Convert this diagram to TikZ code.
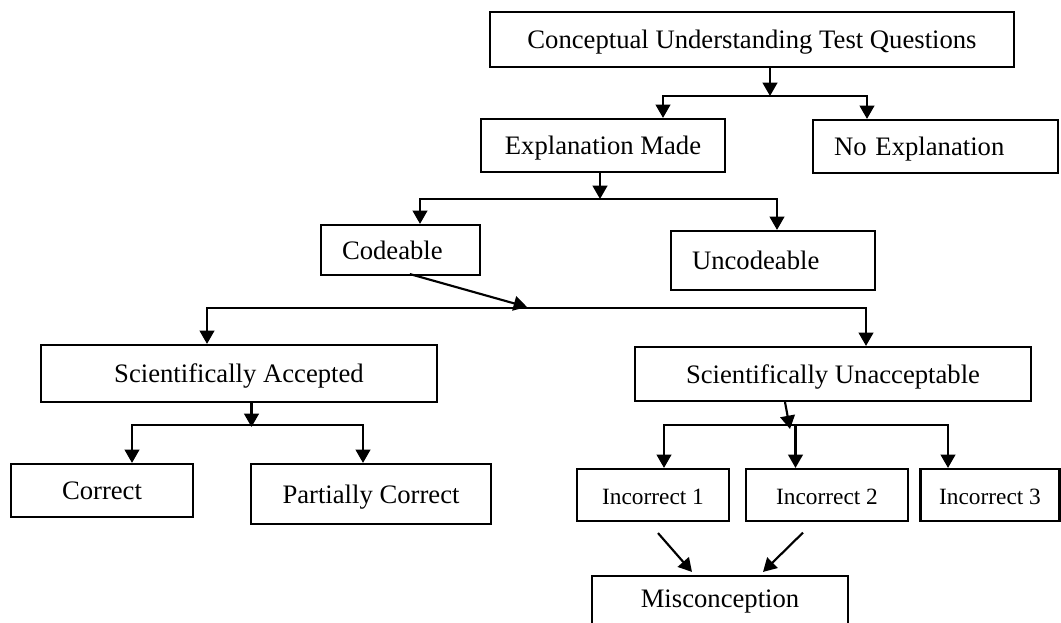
\documentclass[tikz,border=0pt]{standalone}
\usepackage{fontspec}
\setmainfont{Liberation Serif}
\usetikzlibrary{arrows.meta}
\usetikzlibrary{positioning}

\begin{document}
\begin{tikzpicture}[
    x=0.75pt, y=-0.75pt,  % pixel grid, y runs downwards
    flowbox/.style={
        rectangle,
        draw=black,
        line width=1.6pt,
        inner sep=0pt,
        text height=15pt,
        text depth=1pt,
        font=\fontsize{20}{24}\selectfont
    },
    leftbox/.style={
        flowbox,
        align=left,
        inner xsep=15.75pt  % text starts near the left edge
    },
    smallbox/.style={
        flowbox,
        font=\fontsize{17.5}{21}\selectfont
    },
    myarrow/.style={
        ->, >={Triangle[length=10pt, width=11pt]},
        line width=1.6pt
    },
    fork/.style={
        <->, >={Triangle[length=10pt, width=11pt]},
        line width=1.6pt
    }
]
\useasboundingbox (0,0) rectangle (1061,623);

% Boxes
\node[flowbox, minimum width=393pt, minimum height=41.25pt] (ctq) at (752,39.5) {Conceptual Understanding Test Questions};
\node[flowbox, minimum width=183pt, minimum height=39.75pt] (expl) at (603,145.5) {Explanation Made};
\node[leftbox, text width=152.25pt, minimum height=39.75pt] (noexpl) at (935.5,146.5) {No Explanation};
\node[leftbox, text width=87.75pt, minimum height=37.5pt] (code) at (400.5,250) {Codeable};
\node[leftbox, text width=121.5pt, minimum height=44.25pt] (uncode) at (773,260.5) {Uncodeable};
\node[flowbox, minimum width=297pt, minimum height=42.75pt] (sciacc) at (239,373.5) {Scientifically Accepted};
\node[flowbox, minimum width=297pt, minimum height=40.5pt] (sciun) at (833,374) {Scientifically Unacceptable};
\node[flowbox, minimum width=136.9pt, minimum height=39.75pt] (corr) at (102,490.5) {Correct};
\node[flowbox, minimum width=180pt, minimum height=45pt] (partial) at (371,494) {Partially Correct};
\node[smallbox, minimum width=114pt, minimum height=39pt] (inc1) at (653,495) {Incorrect 1};
\node[smallbox, minimum width=121.5pt, minimum height=39pt] (inc2) at (827,495) {Incorrect 2};
\node[smallbox, minimum width=104.25pt, minimum height=39pt] (inc3) at (990,495) {Incorrect 3};
\node[flowbox, anchor=north, minimum width=192pt, text height=24pt, text depth=30pt] (misc) at (720,574.6) {Misconception};

% Junction points
\coordinate (j1) at (770,96);
\coordinate (j1l) at (663,96);
\coordinate (j1r) at (867,96);
\coordinate (j2) at (600,199);
\coordinate (j2l) at (420,199);
\coordinate (j2r) at (777,199);
\coordinate (j3) at (527,307);
\coordinate (j3l) at (207,308);
\coordinate (j3r) at (866,308);
\coordinate (j4) at (251.5,427);
\coordinate (j4l) at (132,425);
\coordinate (j4r) at (363,425);
\coordinate (j5) at (790,429);
\coordinate (j5l) at (664,425);
\coordinate (j5m) at (795.5,425);
\coordinate (j5r) at (948,425);

% Connectors
\draw[myarrow] (ctq.south -| j1) -- (j1);
\draw[fork] (j1l |- expl.north) -- (j1l) -- (j1r) -- (j1r |- noexpl.north);

\draw[myarrow] (expl.south -| j2) -- (j2);
\draw[fork] (j2l |- code.north) -- (j2l) -- (j2r) -- (j2r |- uncode.north);

\draw[myarrow] ([xshift=7pt, yshift=1.5pt]code.south) -- (j3);
\draw[fork] (j3l |- sciacc.north) -- (j3l) -- (j3r) -- (j3r |- sciun.north);

\draw[myarrow] (sciacc.south -| j4) -- (j4);
\draw[fork] (j4l |- corr.north) -- (j4l) -- (j4r) -- (j4r |- partial.north);

\draw[myarrow] ([xshift=-36pt]sciun.south) -- (j5);
\draw[fork] (j5l |- inc1.north) -- (j5l) -- (j5r) -- (j5r |- inc3.north);
\draw[myarrow] (j5m) -- (j5m |- inc2.north);

\draw[myarrow] ([xshift=3.75pt, yshift=-8.25pt]inc1.south) -- ([xshift=-21pt, yshift=2pt]misc.north);
\draw[myarrow] ([xshift=-18pt, yshift=-7.9pt]inc2.south) -- ([xshift=32.25pt, yshift=2pt]misc.north);

\end{tikzpicture}
\end{document}
